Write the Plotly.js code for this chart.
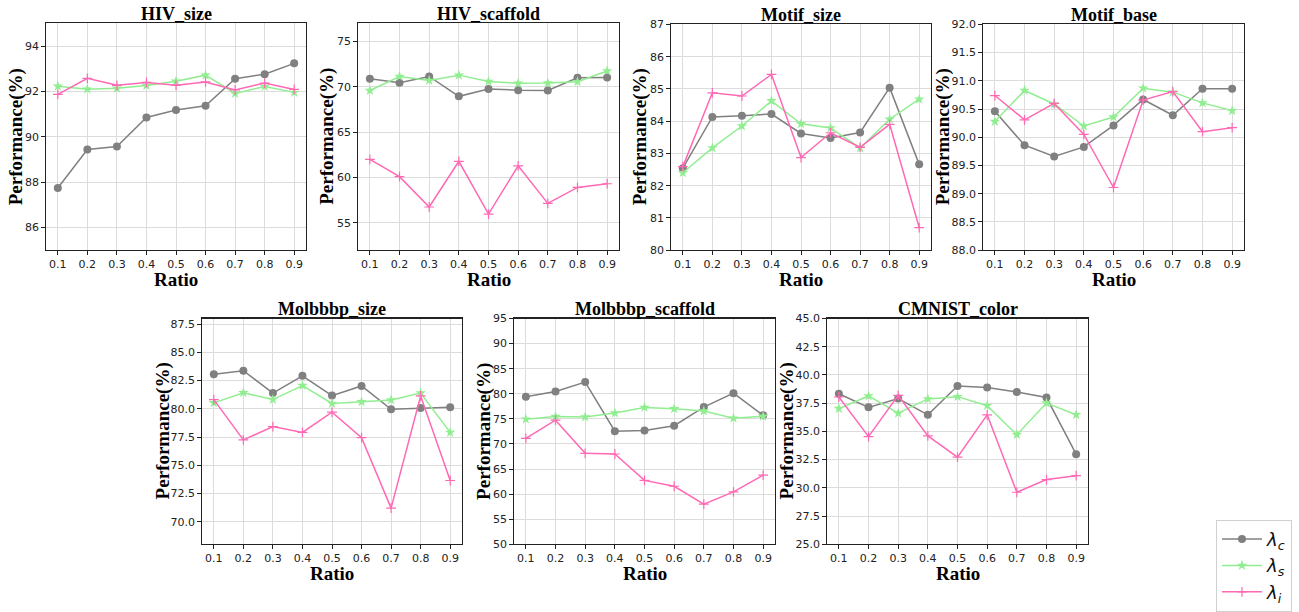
<!DOCTYPE html>
<html>
<head>
<meta charset="utf-8">
<script src="https://cdn.plot.ly/plotly-3.0.1.min.js"></script>
<style>html,body{margin:0;padding:0;background:#fff;}#chart{width:1299px;height:612px;}</style>
</head>
<body>
<div id="chart"></div>
<script>
// ---- data ----
const ratios = [0.1, 0.2, 0.3, 0.4, 0.5, 0.6, 0.7, 0.8, 0.9];
const ratioLabels = ["0.1","0.2","0.3","0.4","0.5","0.6","0.7","0.8","0.9"];
const panelTitles = ["HIV_size","HIV_scaffold","Motif_size","Motif_base","Molbbbp_size","Molbbbp_scaffold","CMNIST_color"];
const seriesNames = ["<i>λ</i><sub><i>c</i></sub>","<i>λ</i><sub><i>s</i></sub>","<i>λ</i><sub><i>i</i></sub>"];

const hivSizeC = [87.74, 89.44, 89.57, 90.85, 91.18, 91.37, 92.56, 92.76, 93.24];
const hivSizeS = [92.23, 92.10, 92.14, 92.26, 92.45, 92.72, 91.91, 92.22, 91.96];
const hivSizeI = [91.87, 92.58, 92.27, 92.40, 92.27, 92.42, 92.07, 92.37, 92.09];

const hivScafC = [70.90, 70.47, 71.15, 68.96, 69.78, 69.64, 69.60, 71.00, 71.04];
const hivScafS = [69.60, 71.15, 70.72, 71.30, 70.61, 70.40, 70.43, 70.58, 71.76];
const hivScafI = [62.00, 60.10, 56.76, 61.80, 55.97, 61.30, 57.16, 58.92, 59.32];

const motifSizeC = [82.54, 84.13, 84.17, 84.22, 83.62, 83.48, 83.65, 85.04, 82.66];
const motifSizeS = [82.40, 83.17, 83.85, 84.63, 83.92, 83.79, 83.17, 84.06, 84.68];
const motifSizeI = [82.59, 84.88, 84.78, 85.45, 82.87, 83.64, 83.19, 83.90, 80.70];

const motifBaseC = [90.46, 89.86, 89.66, 89.83, 90.21, 90.67, 90.39, 90.86, 90.86];
const motifBaseS = [90.28, 90.83, 90.59, 90.20, 90.36, 90.87, 90.80, 90.61, 90.47];
const motifBaseI = [90.74, 90.31, 90.60, 90.05, 89.11, 90.66, 90.81, 90.10, 90.17];

const molSizeC = [83.07, 83.38, 81.40, 82.92, 81.17, 82.03, 79.96, 80.07, 80.13];
const molSizeS = [80.53, 81.43, 80.82, 82.06, 80.48, 80.62, 80.79, 81.40, 77.91];
const molSizeI = [80.82, 77.25, 78.43, 77.91, 79.70, 77.45, 71.20, 81.14, 73.65];

const molScafC = [79.42, 80.45, 82.34, 72.53, 72.66, 73.64, 77.34, 80.13, 75.71];
const molScafS = [74.94, 75.45, 75.39, 76.17, 77.27, 77.01, 76.56, 75.13, 75.52];
const molScafI = [71.10, 74.74, 68.12, 67.99, 62.73, 61.56, 57.99, 60.45, 63.77];

const cmnistC = [38.34, 37.13, 37.91, 36.47, 39.03, 38.89, 38.49, 38.00, 32.98];
const cmnistS = [37.02, 38.14, 36.61, 37.88, 38.08, 37.28, 34.71, 37.51, 36.47];
const cmnistI = [38.05, 34.54, 38.20, 34.60, 32.72, 36.47, 29.61, 30.73, 31.08];

const panelData = [
  [hivSizeC, hivSizeS, hivSizeI],
  [hivScafC, hivScafS, hivScafI],
  [motifSizeC, motifSizeS, motifSizeI],
  [motifBaseC, motifBaseS, motifBaseI],
  [molSizeC, molSizeS, molSizeI],
  [molScafC, molScafS, molScafI],
  [cmnistC, cmnistS, cmnistI]
];

// ---- layout / style ----
const W = 1299, H = 612;
const boxes = [ // pixel boxes [x0,x1,y0,y1]
  [46, 306, 24, 256],
  [358, 619, 24, 256],
  [671, 931, 25, 256],
  [983, 1244, 25, 256],
  [202, 462, 326, 557],
  [514, 775, 326, 557],
  [827, 1088, 326, 557]
];
const ylabelOffsets = [30.5, 31, 31, 40, 39, 29.5, 40];
const yRanges = [[85,95],[52,77],[80,87],[88,92],[68,88],[50,95],[25,45]];
const yDticks = [2, 5, 1, 0.5, 2.5, 5, 2.5];
const yFormats = ["d","d","d",".1f",".1f","d",".1f"];

const colors = ["#808080", "#90EE90", "#FF69B4"];
const symbols = ["circle", "star", "cross-thin-open"];
const msizes = [8, 8, 7];

const traces = [];
const layout = {
  width: W, height: H,
  margin: {l:0, r:0, t:0, b:0},
  paper_bgcolor: "#fff", plot_bgcolor: "#fff",
  showlegend: true,
  legend: {
    x: 1216/W, y: 1 - 532/H, xanchor: "left", yanchor: "top",
    bgcolor: "#fff", bordercolor: "#d0d0d0", borderwidth: 1,
    font: {family: "DejaVu Sans", size: 18, color: "#111"},
    itemwidth: 40, tracegroupgap: 0
  },
  annotations: []
};

const serif = "Liberation Serif, Times New Roman, serif";
const tickFont = {family: "DejaVu Sans", size: 11, color: "#222"};

boxes.forEach((b, i) => {
  const n = i + 1;
  const xa = "xaxis" + (n === 1 ? "" : n);
  const ya = "yaxis" + (n === 1 ? "" : n);
  const xd = [b[0]/W, b[1]/W];
  const yd = [1 - b[3]/H, 1 - b[2]/H];
  layout[xa] = {
    domain: xd, anchor: "y" + (n === 1 ? "" : n),
    range: [0.06, 0.94], tickvals: ratios, ticktext: ratioLabels,
    showgrid: true, gridcolor: "#dcdcdc", gridwidth: 1,
    showline: true, linecolor: "#222", linewidth: 1.2, mirror: true,
    ticks: "outside", ticklen: 3.5, tickcolor: "#222", tickwidth: 1,
    tickfont: tickFont, zeroline: false, fixedrange: true
  };
  layout[ya] = {
    domain: yd, anchor: "x" + (n === 1 ? "" : n),
    range: yRanges[i], dtick: yDticks[i], tick0: 0, tickformat: yFormats[i],
    showgrid: true, gridcolor: "#dcdcdc", gridwidth: 1,
    showline: true, linecolor: "#222", linewidth: 1.2, mirror: true,
    ticks: "outside", ticklen: 3.5, tickcolor: "#222", tickwidth: 1,
    tickfont: tickFont, zeroline: false, fixedrange: true
  };
  // titles
  layout.annotations.push({
    text: "<b>" + panelTitles[i] + "</b>", xref: "paper", yref: "paper",
    x: (xd[0] + xd[1]) / 2, y: 1 - (b[2] - 10)/H, xanchor: "center", yanchor: "middle",
    showarrow: false, font: {family: serif, size: 18, color: "#000"}
  });
  layout.annotations.push({
    text: "<b>Ratio</b>", xref: "paper", yref: "paper",
    x: (xd[0] + xd[1]) / 2, y: 1 - (b[3] + 30)/H, xanchor: "center", yanchor: "middle",
    showarrow: false, font: {family: serif, size: 19, color: "#000"}
  });
  layout.annotations.push({
    text: "<b>Performance(%)</b>", xref: "paper", yref: "paper", textangle: -90,
    x: (b[0] - ylabelOffsets[i])/W, y: (yd[0] + yd[1]) / 2, xanchor: "center", yanchor: "middle",
    showarrow: false, font: {family: serif, size: 19, color: "#000"}
  });
  panelData[i].forEach((vals, k) => {
    traces.push({
      x: ratios, y: vals, type: "scatter", mode: "lines+markers",
      xaxis: "x" + (n === 1 ? "" : n), yaxis: "y" + (n === 1 ? "" : n),
      name: seriesNames[k], legendgroup: "g" + k, showlegend: i === 0,
      line: {color: colors[k], width: 1.5},
      marker: {symbol: symbols[k], size: msizes[k], color: colors[k],
               line: {color: colors[k], width: k === 2 ? 1.2 : 0}},
      cliponaxis: false
    });
  });
});

Plotly.newPlot("chart", traces, layout, {staticPlot: true, displayModeBar: false});
</script>
</body>
</html>
